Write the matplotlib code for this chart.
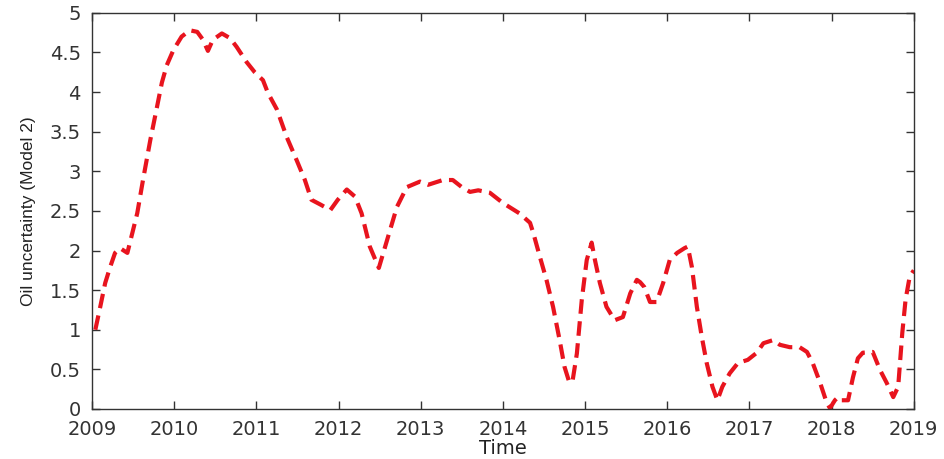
import matplotlib.pyplot as plt

plt.rcParams['font.family'] = ['DejaVu Sans']

# time (years) and oil uncertainty
time = [2009.04, 2009.10, 2009.16, 2009.22, 2009.28, 2009.34, 2009.43, 2009.49, 2009.55,
        2009.62, 2009.71, 2009.79, 2009.85, 2009.91, 2009.99, 2010.09, 2010.19, 2010.28,
        2010.35, 2010.41, 2010.47, 2010.58, 2010.68, 2010.76, 2010.88, 2010.98, 2011.08,
        2011.14, 2011.25, 2011.37, 2011.49, 2011.59, 2011.67, 2011.78, 2011.90, 2011.99,
        2012.10, 2012.20, 2012.28, 2012.38, 2012.49, 2012.59, 2012.71, 2012.83, 2012.99,
        2013.09, 2013.27, 2013.39, 2013.50, 2013.60, 2013.70, 2013.84, 2014.00, 2014.20,
        2014.33, 2014.37, 2014.45, 2014.53, 2014.61, 2014.69, 2014.75, 2014.81, 2014.85,
        2014.90, 2014.96, 2015.02, 2015.08, 2015.12, 2015.18, 2015.26, 2015.36, 2015.46,
        2015.55, 2015.63, 2015.67, 2015.72, 2015.79, 2015.87, 2015.95, 2016.03, 2016.12,
        2016.21, 2016.25, 2016.30, 2016.36, 2016.42, 2016.48, 2016.55, 2016.61, 2016.67,
        2016.76, 2016.86, 2016.98, 2017.09, 2017.17, 2017.29, 2017.37, 2017.49, 2017.61,
        2017.70, 2017.77, 2017.86, 2017.94, 2017.98, 2018.04, 2018.08, 2018.12, 2018.20,
        2018.26, 2018.32, 2018.38, 2018.50, 2018.59, 2018.67, 2018.75, 2018.81, 2018.86,
        2018.90, 2018.95, 2019.00]
uncertainty = [1.00, 1.29, 1.59, 1.79, 1.97, 2.03, 1.97, 2.22, 2.47,
               2.89, 3.40, 3.81, 4.12, 4.34, 4.53, 4.70, 4.78, 4.76,
               4.66, 4.52, 4.66, 4.74, 4.68, 4.57, 4.38, 4.25, 4.15,
               3.99, 3.78, 3.43, 3.14, 2.89, 2.64, 2.58, 2.51, 2.64,
               2.77, 2.68, 2.47, 2.05, 1.78, 2.13, 2.55, 2.80, 2.87,
               2.83, 2.89, 2.89, 2.80, 2.74, 2.76, 2.73, 2.60, 2.47,
               2.35, 2.22, 1.92, 1.63, 1.29, 0.87, 0.53, 0.33, 0.37,
               0.70, 1.38, 1.88, 2.10, 1.88, 1.59, 1.29, 1.12, 1.16,
               1.46, 1.63, 1.60, 1.54, 1.35, 1.35, 1.59, 1.88, 1.97,
               2.03, 2.05, 1.79, 1.29, 0.91, 0.58, 0.28, 0.11, 0.28,
               0.45, 0.58, 0.62, 0.71, 0.83, 0.87, 0.81, 0.78, 0.78,
               0.72, 0.58, 0.33, 0.08, 0.01, 0.11, 0.15, 0.11, 0.11,
               0.40, 0.64, 0.71, 0.72, 0.49, 0.33, 0.15, 0.28, 0.96,
               1.38, 1.67, 1.75]

years = list(range(2009, 2020))
yticks = [0, 0.5, 1, 1.5, 2, 2.5, 3, 3.5, 4, 4.5, 5]

fig = plt.figure(figsize=(9.44, 4.59), dpi=100)
ax = fig.add_axes([0.0975, 0.109, 0.8705, 0.863])
ax.plot(time, uncertainty, color='#e8141e', linestyle=(0, (3.5, 1.8)), linewidth=3)

ax.set_xlim(2009, 2019)
ax.set_ylim(0, 5)
ax.set_xticks(years)
ax.set_xticklabels([str(y) for y in years])
ax.set_yticks(yticks)
ax.set_yticklabels(['0', '0.5', '1', '1.5', '2', '2.5', '3', '3.5', '4', '4.5', '5'])
ax.tick_params(direction='in', top=True, right=True, length=6, width=1,
               labelsize=14, colors='#333333')
ax.tick_params(axis='x', pad=8)
ax.tick_params(axis='y', pad=8)
for s in ax.spines.values():
    s.set_color('#333333')
    s.set_linewidth(1)

ax.set_xlabel('Time', fontsize=14, color='#222222', labelpad=0)
ax.set_ylabel('Oil uncertainty (Model 2)',
              family=['Liberation Sans Narrow', 'Liberation Sans'],
              fontsize=12.5, color='#222222', labelpad=10)

fig.savefig('out.png', dpi=100)
